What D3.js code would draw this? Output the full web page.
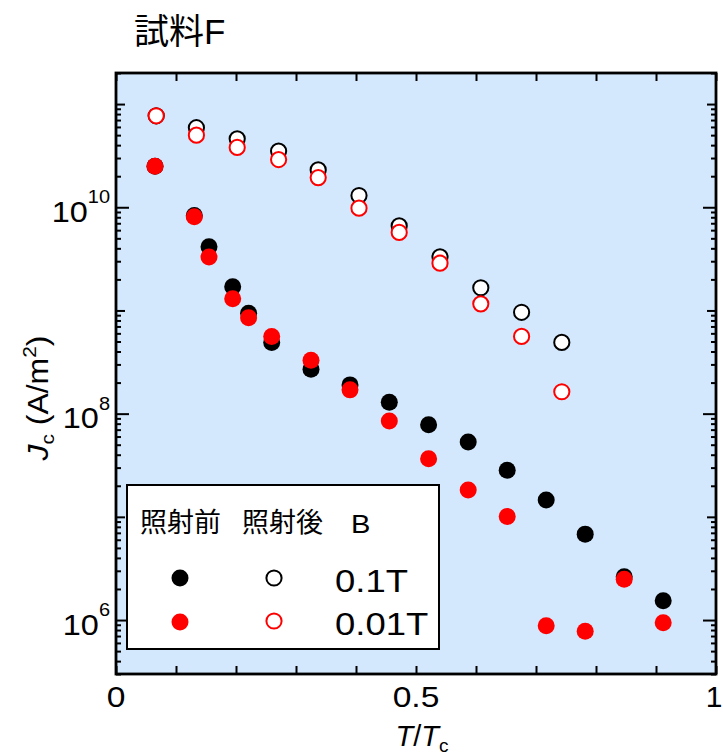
<!DOCTYPE html>
<html>
<head>
<meta charset="utf-8">
<script src="https://cdn.jsdelivr.net/npm/d3@7"></script>
<style>
  html, body { margin: 0; padding: 0; background: #ffffff; }
  svg { display: block; }
  text { font-family: "Liberation Sans", Arial, "Noto Sans CJK JP", sans-serif; fill: #000; }
</style>
</head>
<body>
<svg id="chart" width="723" height="756"></svg>
<script>
// ---- data ----
const title = "試料F";
// open circles: after irradiation (照射後)
const openX = [0.067, 0.134, 0.202, 0.271, 0.337, 0.405, 0.472, 0.540, 0.608, 0.676, 0.743];
const openB01 = [7.7e10, 5.9e10, 4.6e10, 3.5e10, 2.3e10, 1.3e10, 6.6e9, 3.3e9, 1.66e9, 9.6e8, 4.9e8];   // 0.1T
const openB001 = [7.7e10, 5.0e10, 3.8e10, 2.9e10, 1.94e10, 9.8e9, 5.7e9, 2.87e9, 1.16e9, 5.6e8, 1.63e8]; // 0.01T
// filled circles: before irradiation (照射前)
const filledX = [0.065, 0.1305, 0.155, 0.1945, 0.221, 0.2595, 0.325, 0.390, 0.4555, 0.521, 0.587, 0.652, 0.717, 0.782, 0.847, 0.912];
const filledB01 = [2.5e10, 8.3e9, 4.15e9, 1.70e9, 9.4e8, 4.9e8, 2.7e8, 1.9e8, 1.29e8, 7.8e7, 5.3e7, 2.83e7, 1.46e7, 6.8e6, 2.63e6, 1.54e6];
const filledB001 = [2.5e10, 8.1e9, 3.3e9, 1.30e9, 8.5e8, 5.6e8, 3.3e8, 1.7e8, 8.5e7, 3.66e7, 1.82e7, 1.01e7, 8.8e5, 7.8e5, 2.48e6, 9.4e5];

const xTickValues = [0, 0.1, 0.2, 0.3, 0.4, 0.5, 0.6, 0.7, 0.8, 0.9, 1];
const xTickLabels = ["0", "", "", "", "", "0.5", "", "", "", "", "1"];
const yLabelExponents = [6, 8, 10];
const legendHeaders = ["照射前", "照射後", "B"];
const legendFields = ["0.1T", "0.01T"];

// ---- layout ----
const svg = d3.select("#chart");
const W = 723;
const L = 116, R = 716, T = 73, B = 674;
const x = d3.scaleLinear().domain([0, 1]).range([L, R]);
const y = d3.scaleLog().domain([3e5, 2e11]).range([B, T]);

const bg = "#d3e8fc";
svg.append("rect").attr("x", L).attr("y", T).attr("width", R - L).attr("height", B - T).attr("fill", bg);

// y tick values (log minor ticks)
const yTicks = [];
for (let e = 5; e <= 11; e++) {
  for (let m = 1; m <= 9; m++) {
    const v = m * Math.pow(10, e);
    if (v >= 3e5 && v <= 2e11) yTicks.push(v);
  }
}
function yTickLen(v) {
  const e = Math.log10(v);
  if (Math.abs(e - Math.round(e)) < 1e-9) {
    return (Math.round(e) % 2 === 0) ? 13 : 9;
  }
  return 5;
}

// Axes (ticks drawn inward)
const gLeft = svg.append("g").attr("transform", `translate(${L},0)`)
  .call(d3.axisLeft(y).tickValues(yTicks).tickFormat("").tickSizeInner(-5).tickSizeOuter(0));
gLeft.selectAll(".tick line").attr("x2", d => yTickLen(d));
const gRight = svg.append("g").attr("transform", `translate(${R},0)`)
  .call(d3.axisRight(y).tickValues(yTicks).tickFormat("").tickSizeInner(-5).tickSizeOuter(0));
gRight.selectAll(".tick line").attr("x2", d => -yTickLen(d));
const gBottom = svg.append("g").attr("transform", `translate(0,${B})`)
  .call(d3.axisBottom(x).tickValues(xTickValues).tickFormat("").tickSizeInner(-8).tickSizeOuter(0));
const gTop = svg.append("g").attr("transform", `translate(0,${T})`)
  .call(d3.axisTop(x).tickValues(xTickValues).tickFormat("").tickSizeInner(-8).tickSizeOuter(0));
[gLeft, gRight, gBottom, gTop].forEach(g => {
  g.select(".domain").remove();
  g.selectAll(".tick line").attr("stroke", "#000").attr("stroke-width", 2);
});

// frame
svg.append("rect").attr("x", L).attr("y", T).attr("width", R - L).attr("height", B - T)
  .attr("fill", "none").attr("stroke", "#000").attr("stroke-width", 2.8);

// helper: text placed at (px,py) and stretched horizontally by sx
function stretched(parent, px, py, sx) {
  return parent.append("text").attr("transform", `translate(${px},${py}) scale(${sx},1)`);
}

// x tick labels (the last one is kept inside the page edge)
xTickValues.forEach((d, i) => {
  if (xTickLabels[i] === "") return;
  const px = x(d);
  const atEdge = px + 10 > W;
  stretched(svg, atEdge ? px - 2 : px, 707, atEdge ? 1 : 1.12)
    .attr("text-anchor", "middle").attr("font-size", 30).text(xTickLabels[i]);
});

// y tick labels 10^n
yLabelExponents.forEach(e => {
  const t = stretched(svg, 110, y(Math.pow(10, e)) + 14.5, 1.08).attr("text-anchor", "end").attr("font-size", 30);
  t.append("tspan").text("10");
  t.append("tspan").attr("font-size", 18.5).attr("dy", -18.5).text(String(e));
});

// axis titles
const xt = svg.append("text").attr("x", (L + R) / 2 + 6).attr("y", 746)
  .attr("text-anchor", "middle").attr("font-size", 29);
xt.append("tspan").attr("font-style", "italic").text("T");
xt.append("tspan").text("/");
xt.append("tspan").attr("font-style", "italic").text("T");
xt.append("tspan").attr("font-size", 19).attr("dy", 6).text("c");

const ytl = svg.append("text").attr("transform", "translate(48,398) rotate(-90) scale(1.1,1)")
  .attr("text-anchor", "middle").attr("font-size", 29);
ytl.append("tspan").attr("font-style", "italic").text("J");
ytl.append("tspan").attr("font-size", 19).attr("dy", 6).text("c");
ytl.append("tspan").attr("dy", -6).text(" (A/m");
ytl.append("tspan").attr("font-size", 19).attr("dy", -12).text("2");
ytl.append("tspan").attr("dy", 12).text(")");

// title
svg.append("text").attr("x", 134).attr("y", 44).attr("font-size", 35).text(title);

// ---- data marks ----
const rF = 8.5, rO = 7.6;
const plot = svg.append("g");
function filled(xs, ys, color) {
  plot.append("g").selectAll("circle").data(xs.map((d, i) => [d, ys[i]])).join("circle")
    .attr("cx", d => x(d[0])).attr("cy", d => y(d[1])).attr("r", rF).attr("fill", color);
}
function open(xs, ys, color) {
  plot.append("g").selectAll("circle").data(xs.map((d, i) => [d, ys[i]])).join("circle")
    .attr("cx", d => x(d[0])).attr("cy", d => y(d[1])).attr("r", rO)
    .attr("fill", "#fff").attr("stroke", color).attr("stroke-width", 2);
}
filled(filledX, filledB01, "#000");
filled(filledX, filledB001, "#ff0000");
open(openX, openB01, "#000");
open(openX, openB001, "#ff0000");

// ---- legend ----
const lg = svg.append("g");
lg.append("rect").attr("x", 127).attr("y", 485).attr("width", 312).attr("height", 164)
  .attr("fill", "#fff").attr("stroke", "#000").attr("stroke-width", 2);
lg.append("text").attr("x", 140).attr("y", 532).attr("font-size", 27).text(legendHeaders[0]);
lg.append("text").attr("x", 242).attr("y", 532).attr("font-size", 27).text(legendHeaders[1]);
stretched(lg, 351, 533, 1.12).attr("font-size", 26).text(legendHeaders[2]);
stretched(lg, 335, 592, 1.14).attr("font-size", 32).text(legendFields[0]);
stretched(lg, 335, 635, 1.14).attr("font-size", 32).text(legendFields[1]);
lg.append("circle").attr("cx", 180).attr("cy", 578).attr("r", rF).attr("fill", "#000");
lg.append("circle").attr("cx", 180).attr("cy", 622).attr("r", rF).attr("fill", "#ff0000");
lg.append("circle").attr("cx", 274).attr("cy", 578).attr("r", rO).attr("fill", "#fff").attr("stroke", "#000").attr("stroke-width", 2);
lg.append("circle").attr("cx", 274).attr("cy", 621).attr("r", rO).attr("fill", "#fff").attr("stroke", "#ff0000").attr("stroke-width", 2);
</script>
</body>
</html>
